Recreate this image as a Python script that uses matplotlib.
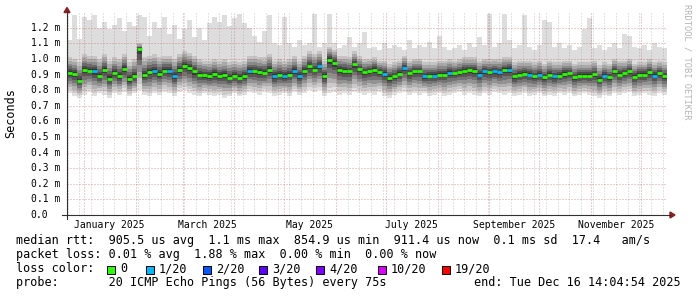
import numpy as np
import matplotlib
matplotlib.use('Agg')
import matplotlib.pyplot as plt
import matplotlib.dates as mdates
from matplotlib.ticker import MultipleLocator
from matplotlib.patches import Polygon, Rectangle
from matplotlib.lines import Line2D
from matplotlib.transforms import blended_transform_factory

plt.rcParams['font.family'] = ['DejaVu Sans Mono']

#-----------------
# DATA (smokeping, 3-day buckets, values in ms)
#-----------------
start = np.datetime64('2024-12-21T14:04:54')
end = np.datetime64('2025-12-16T14:04:54')
step_days = 3

# median rtt
med = [0.910, 0.905, 0.860, 0.930, 0.925, 0.921, 0.890, 0.930, 0.875, 0.910,
       0.890, 0.935, 0.870, 0.890, 1.065, 0.895, 0.915, 0.920, 0.905, 0.925,
       0.925, 0.889, 0.930, 0.955, 0.945, 0.920, 0.900, 0.895, 0.890, 0.905,
       0.889, 0.895, 0.880, 0.890, 0.878, 0.890, 0.921, 0.920, 0.915, 0.910,
       0.932, 0.889, 0.899, 0.889, 0.900, 0.921, 0.889, 0.921, 0.953, 0.932,
       0.953, 0.889, 0.996, 0.975, 0.932, 0.925, 0.921, 0.965, 0.935, 0.915,
       0.921, 0.932, 0.915, 0.905, 0.878, 0.889, 0.905, 0.942, 0.910, 0.921,
       0.921, 0.889, 0.893, 0.893, 0.899, 0.900, 0.912, 0.910, 0.915, 0.925,
       0.928, 0.925, 0.900, 0.920, 0.915, 0.921, 0.915, 0.930, 0.932, 0.889,
       0.899, 0.905, 0.900, 0.889, 0.899, 0.882, 0.899, 0.889, 0.893, 0.905,
       0.910, 0.882, 0.893, 0.893, 0.893, 0.903, 0.867, 0.893, 0.882, 0.921,
       0.899, 0.910, 0.921, 0.886, 0.899, 0.899, 0.915, 0.893, 0.910, 0.889]

# lowest ping of the bucket
lo = [0.78, 0.76, 0.75, 0.77, 0.79, 0.76, 0.78, 0.77, 0.75, 0.78,
      0.77, 0.79, 0.76, 0.78, 0.80, 0.77, 0.76, 0.78, 0.77, 0.79,
      0.78, 0.76, 0.79, 0.80, 0.78, 0.77, 0.76, 0.78, 0.77, 0.76,
      0.77, 0.75, 0.76, 0.78, 0.76, 0.77, 0.79, 0.78, 0.77, 0.79,
      0.78, 0.76, 0.77, 0.78, 0.76, 0.79, 0.77, 0.78, 0.80, 0.79,
      0.80, 0.76, 0.78, 0.79, 0.77, 0.78, 0.77, 0.79, 0.78, 0.77,
      0.78, 0.77, 0.79, 0.76, 0.75, 0.77, 0.78, 0.79, 0.77, 0.78,
      0.77, 0.78, 0.76, 0.77, 0.78, 0.76, 0.77, 0.78, 0.79, 0.77,
      0.78, 0.77, 0.76, 0.78, 0.77, 0.79, 0.78, 0.77, 0.78, 0.76,
      0.77, 0.78, 0.76, 0.77, 0.78, 0.76, 0.77, 0.76, 0.78, 0.77,
      0.78, 0.76, 0.77, 0.78, 0.77, 0.76, 0.75, 0.77, 0.76, 0.78,
      0.77, 0.78, 0.79, 0.76, 0.77, 0.78, 0.77, 0.76, 0.78, 0.77]

# upper edge of the dense smoke
core_hi = [1.01, 1.00, 0.98, 1.03, 1.02, 1.02, 1.00, 1.03, 0.99, 1.01,
           1.00, 1.03, 0.98, 1.00, 1.10, 1.01, 1.02, 1.03, 1.01, 1.02,
           1.02, 1.00, 1.03, 1.05, 1.04, 1.02, 1.00, 0.99, 0.99, 1.00,
           0.99, 1.00, 0.98, 0.99, 0.98, 0.99, 1.02, 1.02, 1.01, 1.01,
           1.03, 0.99, 1.00, 0.99, 1.00, 1.02, 0.99, 1.02, 1.05, 1.03,
           1.05, 0.99, 1.08, 1.06, 1.02, 1.02, 1.01, 1.05, 1.02, 1.00,
           1.00, 1.01, 0.99, 0.99, 0.97, 0.98, 0.99, 1.02, 0.99, 1.00,
           1.00, 0.98, 0.98, 0.98, 0.99, 0.99, 1.00, 0.99, 1.00, 1.01,
           1.01, 1.01, 0.99, 1.00, 1.00, 1.00, 1.00, 1.01, 1.01, 0.98,
           0.99, 0.99, 0.99, 0.98, 0.99, 0.97, 0.99, 0.98, 0.98, 0.99,
           0.99, 0.97, 0.98, 0.98, 0.98, 0.99, 0.96, 0.98, 0.97, 1.00,
           0.99, 0.99, 1.00, 0.97, 0.98, 0.98, 1.00, 0.98, 0.99, 0.98]

# highest ping of the bucket
hi = [1.12, 1.28, 1.13, 1.27, 1.25, 1.28, 1.20, 1.24, 1.19, 1.22,
      1.26, 1.18, 1.24, 1.21, 1.28, 1.27, 1.15, 1.24, 1.20, 1.27,
      1.16, 1.22, 1.13, 1.19, 1.25, 1.14, 1.20, 1.12, 1.23, 1.27,
      1.24, 1.28, 1.21, 1.26, 1.29, 1.23, 1.20, 1.15, 1.11, 1.18,
      1.28, 1.10, 1.09, 1.27, 1.10, 1.08, 1.12, 1.09, 1.10, 1.29,
      1.08, 1.10, 1.29, 1.10, 1.07, 1.09, 1.14, 1.08, 1.10, 1.17,
      1.07, 1.08, 1.06, 1.10, 1.07, 1.09, 1.08, 1.06, 1.12, 1.07,
      1.09, 1.08, 1.11, 1.07, 1.15, 1.08, 1.06, 1.07, 1.09, 1.06,
      1.10, 1.08, 1.14, 1.09, 1.29, 1.08, 1.10, 1.29, 1.12, 1.07,
      1.09, 1.28, 1.08, 1.06, 1.09, 1.25, 1.24, 1.08, 1.10, 1.07,
      1.09, 1.06, 1.08, 1.19, 1.26, 1.07, 1.09, 1.06, 1.08, 1.10,
      1.07, 1.16, 1.15, 1.08, 1.07, 1.09, 1.06, 1.10, 1.08, 1.07]

# lost pings (of 20) per bucket
loss = [0, 0, 0, 0, 0, 1, 0, 0, 0, 0,
        0, 0, 0, 0, 0, 0, 0, 1, 0, 0,
        1, 1, 0, 0, 0, 0, 0, 0, 0, 0,
        0, 0, 0, 0, 0, 0, 1, 0, 0, 0,
        0, 1, 0, 1, 0, 1, 1, 0, 0, 0,
        1, 0, 0, 0, 0, 0, 0, 0, 0, 0,
        0, 0, 0, 1, 0, 0, 0, 1, 0, 0,
        0, 1, 0, 1, 0, 0, 1, 0, 0, 0,
        0, 0, 1, 1, 0, 1, 1, 0, 1, 0,
        0, 0, 1, 0, 1, 0, 0, 1, 0, 0,
        0, 0, 0, 0, 0, 0, 0, 1, 0, 0,
        0, 0, 0, 0, 0, 0, 0, 1, 0, 0]

y_ticks = [0.0, 0.1, 0.2, 0.3, 0.4, 0.5, 0.6, 0.7, 0.8, 0.9, 1.0, 1.1, 1.2]
y_tick_labels = ['0.0', '0.1 m', '0.2 m', '0.3 m', '0.4 m', '0.5 m', '0.6 m',
                 '0.7 m', '0.8 m', '0.9 m', '1.0 m', '1.1 m', '1.2 m']
month_labels = ['January 2025', 'March 2025', 'May 2025',
                'July 2025', 'September 2025', 'November 2025']
month_label_dates = ['2025-01-16', '2025-03-16', '2025-05-16',
                     '2025-07-16', '2025-09-16', '2025-11-16']

loss_counts = [0, 1, 2, 3, 4, 10, 19]
loss_names = ['0', '1/20', '2/20', '3/20', '4/20', '10/20', '19/20']
loss_colors = ['#26ff00', '#00b8ff', '#0059ff', '#5e00ff', '#7e00ff', '#dd00ff', '#ff0000']

legend_rtt = 'median rtt:  905.5 us avg  1.1 ms max  854.9 us min  911.4 us now  0.1 ms sd  17.4   am/s'
legend_loss = 'packet loss: 0.01 % avg  1.88 % max  0.00 % min  0.00 % now'
legend_probe = 'probe:       20 ICMP Echo Pings (56 Bytes) every 75s'
legend_end = 'end: Tue Dec 16 14:04:54 2025'

#-----------------
# FIGURE
#-----------------
W, H = 697, 297
def fx(x):
    return x / W
def fy(y):
    return 1 - y / H

fig = plt.figure(figsize=(W / 100, H / 100), dpi=100)
fig.patch.set_facecolor('white')
ax = fig.add_axes([fx(67), fy(215), 600 / W, 202 / H])

med = np.array(med)
lo = np.array(lo)
core_hi = np.array(core_hi)
hi = np.array(hi)
n = len(med)
edges = mdates.date2num(start + np.arange(n + 1) * np.timedelta64(step_days, 'D'))

def ext(a):
    return np.append(a, a[-1])

# smoke: light max band, then gradient towards the median
ax.fill_between(edges, ext(core_hi), ext(hi), step='post', color='#dddddd', lw=0)
up_shades = [(1.0, '#c4c4c4'), (0.8, '#a8a8a8'), (0.6, '#8a8a8a'),
             (0.42, '#6a6a6a'), (0.26, '#4c4c4c'), (0.12, '#333333')]
for f, c in up_shades:
    ax.fill_between(edges, ext(med), ext(med + f * (core_hi - med)),
                    step='post', color=c, lw=0)
down_shades = [(1.0, '#e0e0e0'), (0.85, '#cacaca'), (0.7, '#b0b0b0'),
               (0.55, '#929292'), (0.4, '#747474'), (0.26, '#565656'), (0.13, '#3a3a3a')]
for f, c in down_shades:
    ax.fill_between(edges, ext(med - f * (med - lo)), ext(med),
                    step='post', color=c, lw=0)

# median coloured by loss
color_of = dict(zip(loss_counts, loss_colors))
ax.hlines(med, edges[:-1], edges[1:], colors=[color_of[l] for l in loss],
          lw=2.0, zorder=4)

ax.set_xlim(mdates.date2num(start), mdates.date2num(end))
ax.set_ylim(0, 202 / 156)
ax.xaxis.set_major_locator(mdates.MonthLocator())
ax.xaxis.set_minor_locator(mdates.WeekdayLocator(byweekday=mdates.SU))
ax.yaxis.set_major_locator(MultipleLocator(0.1))
ax.set_axisbelow(False)
ax.grid(which='major', color='#c03a3a', alpha=0.5, ls=(0, (1, 2)), lw=0.72)
ax.grid(which='minor', axis='x', color='#808080', alpha=0.45, ls=(0, (1, 2)), lw=0.72)
ax.tick_params(which='both', length=0, labelbottom=False, labelleft=False)
for s in ax.spines.values():
    s.set_visible(False)
ax.set_facecolor('white')

# y labels
tr_y = blended_transform_factory(fig.transFigure, ax.transData)
for v, t in zip(y_ticks, y_tick_labels):
    ax.text(fx(30.7), v, t, transform=tr_y, ha='left', va='center', fontsize=7)

# month labels
tr_x = blended_transform_factory(ax.transData, fig.transFigure)
for d, t in zip(month_label_dates, month_labels):
    ax.text(mdates.date2num(np.datetime64(d)), fy(224.5), t, transform=tr_x,
            ha='center', va='center', fontsize=7, clip_on=False)

# axes lines with arrows
axis_col = '#303030'
arrow_col = '#8c1e1e'
fig.add_artist(Line2D([fx(62), fx(670)], [fy(215), fy(215)], color=axis_col, lw=0.8))
fig.add_artist(Line2D([fx(67), fx(67)], [fy(219), fy(12)], color=axis_col, lw=0.8))
fig.add_artist(Polygon([(fx(670), fy(212)), (fx(670), fy(218)), (fx(675), fy(215))],
                       closed=True, color=arrow_col, transform=fig.transFigure))
fig.add_artist(Polygon([(fx(64), fy(12.5)), (fx(70), fy(12.5)), (fx(67), fy(7.5))],
                       closed=True, color=arrow_col, transform=fig.transFigure))

fig.text(fx(11), fy(113), 'Seconds', rotation=90, ha='center', va='center', fontsize=8.5)
fig.text(fx(687), fy(4), 'RRDTOOL / TOBI OETIKER', rotation=270, ha='center', va='top',
         fontsize=6.3, color='#b4b4b4')

# legend
fig.text(fx(16), fy(244.3), legend_rtt, va='baseline', fontsize=8.5)
fig.text(fx(16), fy(258.3), legend_loss, va='baseline', fontsize=8.5)
fig.text(fx(16), fy(272.3), 'loss color:', va='baseline', fontsize=8.5)
box_x = [107, 146, 203, 259, 316, 378, 442]
for bx, c, t in zip(box_x, loss_colors, loss_names):
    fig.add_artist(Rectangle((fx(bx), fy(273.5)), 8 / W, 8 / H, facecolor=c,
                             edgecolor='black', lw=0.7, transform=fig.transFigure))
    fig.text(fx(bx + 13), fy(272.3), t, va='baseline', fontsize=8.5)
fig.text(fx(16), fy(286.3), legend_probe, va='baseline', fontsize=8.5)
fig.text(fx(681), fy(286.3), legend_end, ha='right', va='baseline', fontsize=8.5)

fig.savefig('out.png', dpi=100, facecolor='white')
